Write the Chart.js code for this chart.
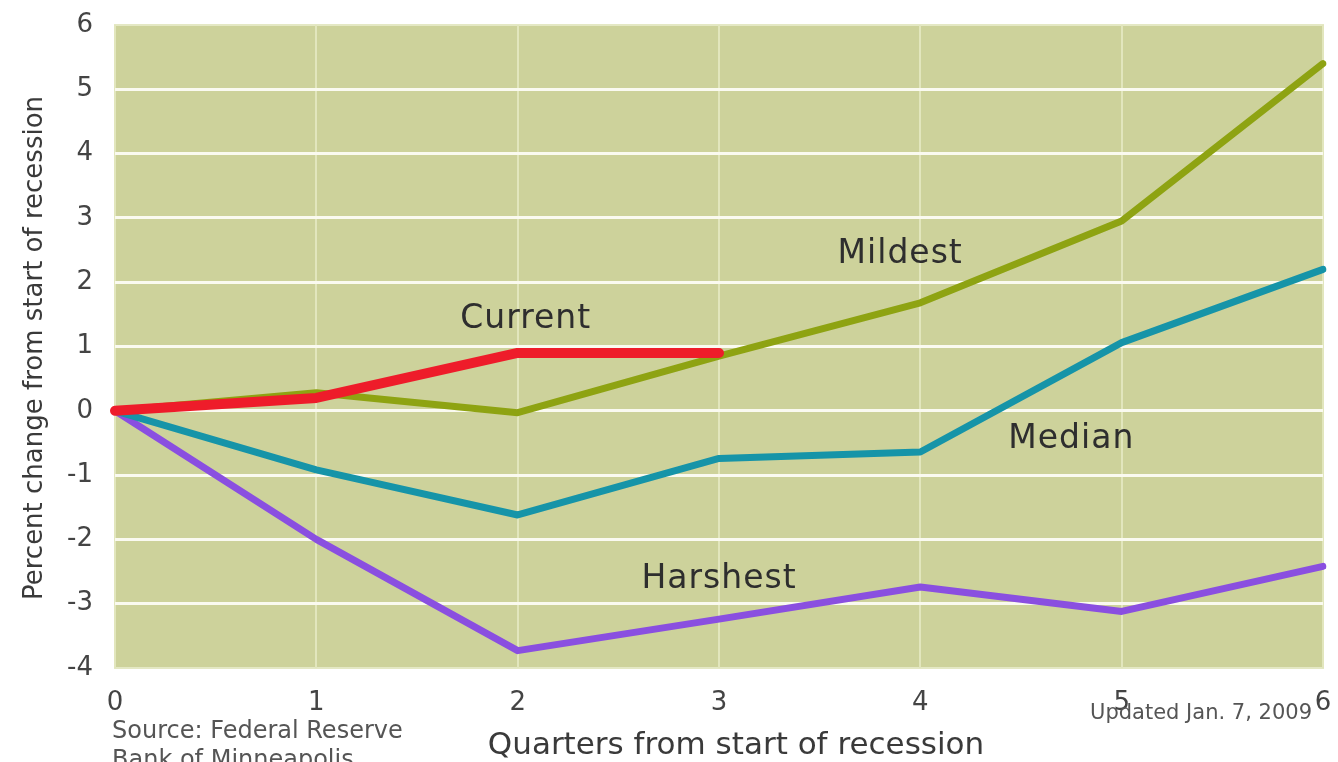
<!DOCTYPE html>
<html>
<head>
<meta charset="utf-8">
<script src="https://cdn.jsdelivr.net/npm/chart.js@4.4.1/dist/chart.umd.min.js"></script>
<style>
  body { margin: 0; background: #fff; }
  #wrap { width: 1338px; height: 762px; position: relative; }
</style>
</head>
<body>
<div id="wrap"><canvas id="myChart"></canvas></div>
<script>
const quarters = ['0', '1', '2', '3', '4', '5', '6'];
const current = [0, 0.2, 0.9, 0.9];
const mildest = [0, 0.28, -0.03, 0.85, 1.68, 2.95, 5.4];
const median = [0, -0.92, -1.62, -0.74, -0.64, 1.06, 2.2];
const harshest = [0, -2.0, -3.73, -3.24, -2.74, -3.12, -2.42];
const yTicks = [-4, -3, -2, -1, 0, 1, 2, 3, 4, 5, 6];

// series names written next to the lines (quarter, value)
const seriesLabels = [
    { text: 'Mildest', q: 3.9, v: 2.43 },
    { text: 'Current', q: 2.04, v: 1.42 },
    { text: 'Median', q: 4.75, v: -0.45 },
    { text: 'Harshest', q: 3.0, v: -2.63 }
];

const FONT = '"DejaVu Sans", sans-serif';

const plotBg = {
    id: 'plotBg',
    beforeDraw(chart) {
        const a = chart.chartArea;
        const c = chart.ctx;
        c.save();
        c.fillStyle = '#cdd29b';
        c.fillRect(a.left, a.top, a.right - a.left, a.bottom - a.top);
        c.strokeStyle = '#e4e8c4';
        c.lineWidth = 2;
        c.strokeRect(a.left, a.top, a.right - a.left, a.bottom - a.top);
        c.restore();
    }
};

const textBits = {
    id: 'textBits',
    afterDatasetsDraw(chart) {
        const c = chart.ctx;
        const xs = chart.scales.x, ys = chart.scales.y;
        c.save();
        c.fillStyle = '#2e2e2e';
        c.font = '33px ' + FONT;
        c.letterSpacing = '1px';
        c.textAlign = 'center';
        c.textBaseline = 'middle';
        seriesLabels.forEach(function(l) {
            const px = xs.getPixelForValue(0) + (xs.getPixelForValue(1) - xs.getPixelForValue(0)) * l.q;
            c.fillText(l.text, px, ys.getPixelForValue(l.v));
        });
        c.letterSpacing = '0px';

        // axis titles
        c.fillStyle = '#3a3a3a';
        c.font = '26px ' + FONT;
        c.save();
        c.translate(35, 348);
        c.rotate(-Math.PI / 2);
        c.fillText('Percent change from start of recession', 0, 0);
        c.restore();

        c.font = '31px ' + FONT;
        c.fillText('Quarters from start of recession', 736, 746);

        // notes
        c.fillStyle = '#555';
        c.textAlign = 'left';
        c.font = '24px ' + FONT;
        c.fillText('Source: Federal Reserve', 112, 732);
        c.fillText('Bank of Minneapolis', 112, 761);
        c.textAlign = 'right';
        c.font = '21px ' + FONT;
        c.fillText('Updated Jan. 7, 2009', 1312, 714);
        c.restore();
    }
};

const ctx = document.getElementById('myChart').getContext('2d');
const myChart = new Chart(ctx, {
    type: 'line',
    data: {
        labels: quarters,
        datasets: [
            { label: 'Current', data: current, borderColor: '#ee1c2a', borderWidth: 10 },
            { label: 'Mildest', data: mildest, borderColor: '#8ea312', borderWidth: 7 },
            { label: 'Median', data: median, borderColor: '#1694a8', borderWidth: 7 },
            { label: 'Harshest', data: harshest, borderColor: '#8a4fe0', borderWidth: 7 }
        ]
    },
    options: {
        responsive: true,
        maintainAspectRatio: false,
        animation: false,
        layout: { padding: { top: 25, right: 15, left: 0, bottom: 0 } },
        elements: {
            point: { radius: 0 },
            line: { tension: 0, borderCapStyle: 'round', borderJoinStyle: 'round' }
        },
        plugins: {
            legend: { display: false },
            tooltip: { enabled: false }
        },
        scales: {
            x: {
                offset: false,
                border: { display: false },
                grid: {
                    drawTicks: false,
                    lineWidth: 2,
                    color: '#e2e6bd'
                },
                ticks: {
                    padding: 20,
                    color: '#444',
                    font: { family: FONT, size: 26 }
                },
                afterFit(scale) {
                    scale.height = 94;
                    scale.paddingLeft = 0;
                    scale.paddingRight = 0;
                }
            },
            y: {
                min: -4,
                max: 6,
                border: { display: false },
                afterBuildTicks(scale) {
                    scale.ticks = yTicks.map(function(v) { return { value: v }; });
                },
                grid: {
                    drawTicks: false,
                    lineWidth: 3,
                    color(c) {
                        if (c.tick && (c.tick.value === 6 || c.tick.value === -4)) return 'rgba(0,0,0,0)';
                        return '#fafaf0';
                    }
                },
                ticks: {
                    padding: 22,
                    color: '#444',
                    font: { family: FONT, size: 26 }
                },
                afterFit(scale) {
                    scale.width = 115;
                    scale.paddingTop = 0;
                    scale.paddingBottom = 0;
                }
            }
        }
    },
    plugins: [plotBg, textBits]
});
</script>
</body>
</html>
